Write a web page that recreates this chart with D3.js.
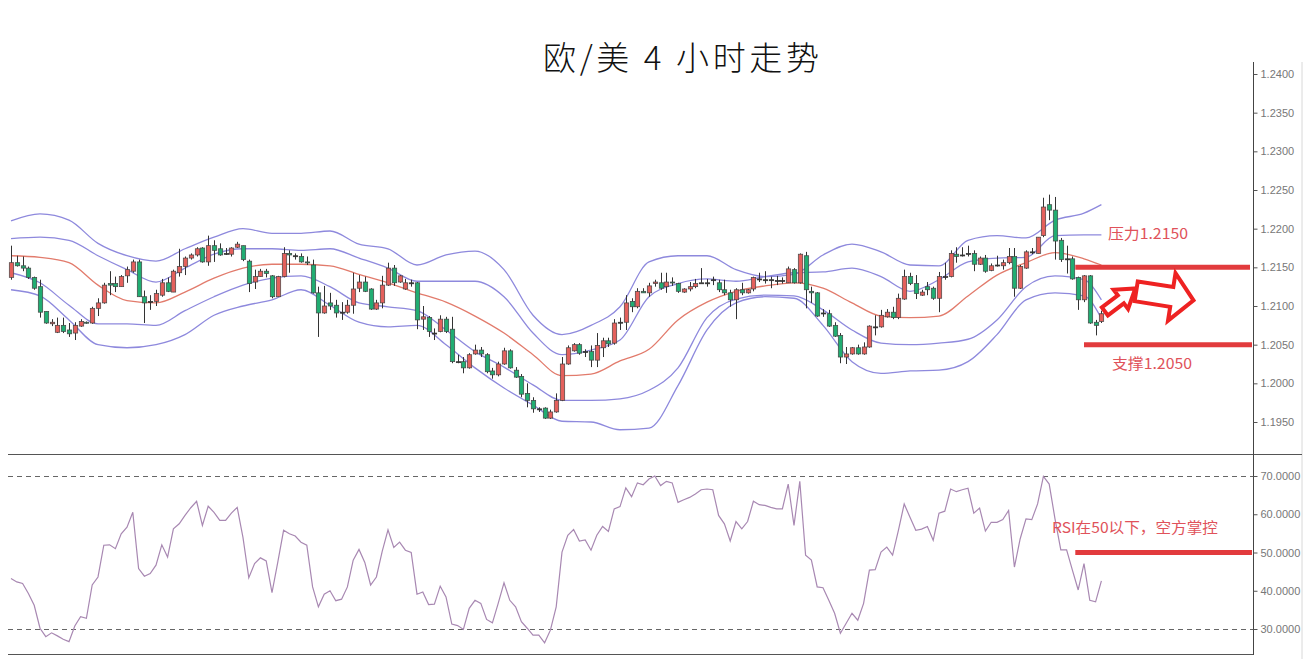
<!DOCTYPE html>
<html><head><meta charset="utf-8">
<script src="https://cdn.jsdelivr.net/npm/d3@7"></script>
<style>body{margin:0;background:#fff}svg{display:block}</style>
</head><body>
<svg id="c" width="1315" height="659"></svg>
<script>
const title = "欧/美 4 小时走势";
const openP = [1.2137,1.2156,1.2152,1.2149,1.2137,1.2125,1.2093,1.2077,1.2066,1.2075,
1.2069,1.2065,1.2074,1.2079,1.2078,1.2097,1.2104,1.2129,1.2129,1.2125,
1.2139,1.2145,1.2157,1.2112,1.2106,1.2106,1.2114,1.2130,1.2118,1.2143,
1.2151,1.2162,1.2166,1.2175,1.2157,1.2178,1.2174,1.2168,1.2167,1.2176,
1.2178,1.2158,1.2131,1.2138,1.2145,1.2139,1.2112,1.2138,1.2168,1.2165,
1.2164,1.2157,1.2153,1.2117,1.2091,1.2104,1.2101,1.2092,1.2092,1.2101,
1.2123,1.2131,1.2122,1.2096,1.2104,1.2127,1.2149,1.2131,1.2122,1.2130,
1.2130,1.2083,1.2085,1.2065,1.2067,1.2083,1.2070,1.2028,1.2028,1.2020,
1.2038,1.2043,1.2037,1.2016,1.2011,1.2025,1.2042,1.2017,1.2009,1.1987,
1.1978,1.1967,1.1968,1.1955,1.1963,1.1978,1.2025,1.2042,1.2050,1.2041,
1.2041,1.2030,1.2046,1.2055,1.2052,1.2079,1.2079,1.2106,1.2099,1.2119,
1.2117,1.2129,1.2130,1.2125,1.2131,1.2129,1.2118,1.2122,1.2125,1.2130,
1.2130,1.2134,1.2130,1.2121,1.2117,1.2108,1.2121,1.2117,1.2122,1.2135,
1.2134,1.2134,1.2133,1.2133,1.2130,1.2147,1.2130,1.2165,1.2119,1.2117,
1.2091,1.2090,1.2075,1.2062,1.2034,1.2038,1.2046,1.2038,1.2047,1.2073,
1.2073,1.2086,1.2092,1.2085,1.2109,1.2138,1.2129,1.2114,1.2125,1.2123,
1.2110,1.2138,1.2138,1.2167,1.2166,1.2168,1.2168,1.2154,1.2162,1.2146,
1.2153,1.2152,1.2156,1.2164,1.2123,1.2149,1.2170,1.2168,1.2191,1.2231,
1.2224,1.2185,1.2161,1.2161,1.2137,1.2108,1.2139,1.2079,1.2080];
const highP = [1.2178,1.2165,1.2164,1.2151,1.2138,1.2134,1.2093,1.2083,1.2085,1.2085,
1.2078,1.2079,1.2083,1.2080,1.2099,1.2110,1.2130,1.2145,1.2138,1.2140,
1.2151,1.2160,1.2160,1.2120,1.2114,1.2121,1.2135,1.2137,1.2147,1.2174,
1.2164,1.2168,1.2176,1.2176,1.2191,1.2185,1.2181,1.2175,1.2176,1.2183,
1.2178,1.2160,1.2147,1.2148,1.2148,1.2140,1.2139,1.2176,1.2172,1.2168,
1.2168,1.2164,1.2160,1.2125,1.2126,1.2117,1.2108,1.2105,1.2108,1.2143,
1.2140,1.2138,1.2123,1.2108,1.2139,1.2156,1.2153,1.2140,1.2135,1.2134,
1.2131,1.2100,1.2087,1.2071,1.2088,1.2086,1.2086,1.2037,1.2034,1.2039,
1.2050,1.2047,1.2039,1.2020,1.2028,1.2046,1.2044,1.2021,1.2012,1.2000,
1.1982,1.1969,1.1969,1.1966,1.1987,1.2034,1.2049,1.2052,1.2052,1.2044,
1.2049,1.2065,1.2059,1.2059,1.2083,1.2085,1.2114,1.2110,1.2123,1.2123,
1.2130,1.2134,1.2143,1.2143,1.2137,1.2130,1.2123,1.2131,1.2135,1.2149,
1.2135,1.2138,1.2134,1.2134,1.2121,1.2123,1.2130,1.2122,1.2138,1.2143,
1.2145,1.2138,1.2139,1.2137,1.2151,1.2149,1.2168,1.2170,1.2125,1.2118,
1.2096,1.2095,1.2079,1.2065,1.2047,1.2047,1.2050,1.2053,1.2075,1.2088,
1.2095,1.2096,1.2099,1.2116,1.2147,1.2143,1.2140,1.2121,1.2131,1.2125,
1.2144,1.2156,1.2172,1.2176,1.2176,1.2178,1.2172,1.2164,1.2166,1.2155,
1.2165,1.2160,1.2175,1.2175,1.2153,1.2172,1.2175,1.2189,1.2240,1.2244,
1.2241,1.2188,1.2178,1.2164,1.2138,1.2140,1.2140,1.2082,1.2094];
const lowP = [1.2134,1.2151,1.2145,1.2135,1.2121,1.2085,1.2077,1.2074,1.2065,1.2065,
1.2060,1.2056,1.2073,1.2077,1.2077,1.2087,1.2103,1.2114,1.2118,1.2125,
1.2130,1.2143,1.2112,1.2078,1.2095,1.2100,1.2112,1.2118,1.2118,1.2138,
1.2140,1.2160,1.2164,1.2156,1.2152,1.2157,1.2165,1.2166,1.2164,1.2175,
1.2158,1.2118,1.2122,1.2138,1.2137,1.2110,1.2112,1.2137,1.2143,1.2160,
1.2156,1.2153,1.2116,1.2060,1.2090,1.2095,1.2085,1.2082,1.2090,1.2090,
1.2118,1.2118,1.2095,1.2095,1.2097,1.2126,1.2126,1.2130,1.2121,1.2125,
1.2070,1.2069,1.2060,1.2056,1.2066,1.2065,1.2026,1.2026,1.2013,1.2019,
1.2037,1.2034,1.2013,1.2006,1.2009,1.2024,1.2019,1.2007,1.1982,1.1969,
1.1962,1.1963,1.1954,1.1954,1.1962,1.1977,1.2024,1.2041,1.2037,1.2034,
1.2021,1.2021,1.2034,1.2047,1.2050,1.2069,1.2069,1.2092,1.2097,1.2117,
1.2112,1.2125,1.2121,1.2117,1.2126,1.2117,1.2117,1.2119,1.2123,1.2130,
1.2125,1.2127,1.2118,1.2114,1.2099,1.2083,1.2114,1.2116,1.2119,1.2131,
1.2129,1.2123,1.2127,1.2129,1.2130,1.2129,1.2129,1.2097,1.2104,1.2086,
1.2086,1.2073,1.2060,1.2026,1.2025,1.2037,1.2037,1.2037,1.2046,1.2062,
1.2072,1.2085,1.2083,1.2083,1.2108,1.2127,1.2109,1.2113,1.2114,1.2108,
1.2092,1.2134,1.2137,1.2156,1.2164,1.2164,1.2145,1.2153,1.2143,1.2145,
1.2151,1.2147,1.2154,1.2112,1.2122,1.2148,1.2167,1.2168,1.2189,1.2211,
1.2160,1.2157,1.2142,1.2134,1.2095,1.2105,1.2077,1.2062,1.2078];
const closeP = [1.2156,1.2152,1.2149,1.2137,1.2123,1.2092,1.2078,1.2079,1.2075,1.2067,
1.2064,1.2075,1.2080,1.2078,1.2097,1.2104,1.2127,1.2127,1.2125,1.2138,
1.2147,1.2157,1.2112,1.2104,1.2106,1.2116,1.2130,1.2119,1.2145,1.2151,
1.2162,1.2166,1.2174,1.2157,1.2178,1.2172,1.2166,1.2168,1.2175,1.2180,
1.2160,1.2129,1.2138,1.2145,1.2142,1.2112,1.2138,1.2168,1.2166,1.2165,
1.2157,1.2156,1.2117,1.2091,1.2100,1.2100,1.2091,1.2092,1.2101,1.2122,
1.2131,1.2119,1.2096,1.2104,1.2127,1.2149,1.2130,1.2139,1.2130,1.2130,
1.2082,1.2086,1.2067,1.2065,1.2083,1.2067,1.2028,1.2028,1.2020,1.2037,
1.2043,1.2038,1.2015,1.2011,1.2025,1.2042,1.2020,1.2008,1.1986,1.1978,
1.1967,1.1967,1.1955,1.1963,1.1978,1.2025,1.2046,1.2050,1.2039,1.2041,
1.2030,1.2049,1.2055,1.2051,1.2078,1.2079,1.2104,1.2099,1.2119,1.2117,
1.2126,1.2131,1.2123,1.2131,1.2130,1.2119,1.2122,1.2125,1.2129,1.2130,
1.2130,1.2134,1.2121,1.2117,1.2108,1.2121,1.2117,1.2121,1.2137,1.2135,
1.2134,1.2134,1.2133,1.2133,1.2148,1.2130,1.2167,1.2121,1.2117,1.2087,
1.2091,1.2074,1.2061,1.2034,1.2038,1.2046,1.2038,1.2047,1.2074,1.2073,
1.2088,1.2092,1.2085,1.2110,1.2138,1.2129,1.2116,1.2118,1.2121,1.2110,
1.2138,1.2138,1.2168,1.2164,1.2166,1.2168,1.2154,1.2162,1.2145,1.2152,
1.2153,1.2156,1.2164,1.2123,1.2151,1.2170,1.2170,1.2189,1.2228,1.2224,
1.2184,1.2160,1.2161,1.2135,1.2108,1.2139,1.2078,1.2075,1.2090];
const rsi = [43.2,42.3,41.9,39.3,36.2,30.2,28.0,29.0,28.2,27.3,
26.7,30.8,33.2,32.8,41.5,43.6,51.9,52.0,51.0,54.9,
56.6,60.5,45.8,43.8,44.5,46.7,52.0,48.8,56.2,57.5,
59.7,61.7,63.4,57.1,62.1,60.5,58.4,58.4,60.3,61.8,
53.9,43.4,47.1,48.6,47.8,39.5,47.5,55.8,54.9,54.3,
52.7,51.9,41.0,35.8,39.1,40.0,37.4,37.8,41.0,48.0,
50.8,47.4,41.5,43.6,50.3,55.9,51.3,52.7,50.6,50.0,
39.1,39.7,36.4,36.5,41.2,38.4,31.3,30.9,29.9,35.4,
37.5,36.7,32.5,31.6,36.7,42.1,37.5,35.8,31.9,30.2,
28.4,28.4,26.4,29.7,35.8,50.1,54.5,56.0,53.0,53.3,
50.6,54.5,56.8,55.5,61.4,62.0,66.9,64.6,68.2,67.7,
69.2,70.0,67.5,68.6,68.2,63.1,63.8,64.4,65.3,66.4,
66.6,66.4,59.7,57.5,53.0,58.1,56.2,58.1,63.4,62.5,
62.3,61.8,61.4,61.4,67.9,57.1,68.6,49.3,48.0,41.0,
40.8,37.5,34.1,28.9,31.5,34.1,32.3,36.7,45.4,45.5,
50.1,51.4,49.3,55.8,62.7,59.2,55.8,56.1,56.8,53.2,
60.3,60.8,66.6,65.9,66.4,66.8,60.3,61.6,55.6,57.9,
57.9,58.6,61.0,46.2,53.6,58.8,58.6,62.7,69.9,67.9,
58.8,50.7,50.7,45.4,40.2,47.1,37.5,37.1,42.6];
const bandIdx = [0,5,10,15,20,25,30,35,40,45,50,55,60,65,70,75,80,85,90,95,100,105,110,115,120,125,130,135,140,145,150,155,160,165,170,175,180,185,188];
const bbOuterUp = [1.2210,1.2219,1.2211,1.2181,1.2165,1.2158,1.2174,1.2189,1.2200,1.2194,1.2194,1.2197,1.2180,1.2174,1.2153,1.2166,1.2171,1.2147,1.2088,1.2063,1.2075,1.2099,1.2157,1.2165,1.2165,1.2147,1.2138,1.2141,1.2166,1.2180,1.2170,1.2153,1.2152,1.2185,1.2191,1.2188,1.2211,1.2220,1.2231];
const bbInnerUp = [1.2187,1.2189,1.2185,1.2165,1.2147,1.2131,1.2149,1.2167,1.2174,1.2174,1.2172,1.2174,1.2162,1.2149,1.2132,1.2132,1.2132,1.2112,1.2065,1.2037,1.2043,1.2056,1.2112,1.2129,1.2135,1.2132,1.2138,1.2143,1.2144,1.2149,1.2138,1.2119,1.2134,1.2157,1.2162,1.2163,1.2191,1.2192,1.2192];
const bbMid = [1.2165,1.2163,1.2156,1.2127,1.2107,1.2104,1.2118,1.2136,1.2149,1.2154,1.2154,1.2152,1.2141,1.2130,1.2117,1.2105,1.2087,1.2065,1.2037,1.2010,1.2012,1.2029,1.2044,1.2082,1.2105,1.2119,1.2126,1.2130,1.2123,1.2104,1.2087,1.2085,1.2087,1.2113,1.2140,1.2156,1.2169,1.2161,1.2153];
const bbInnerLow = [1.2143,1.2130,1.2101,1.2077,1.2077,1.2075,1.2094,1.2112,1.2127,1.2136,1.2139,1.2125,1.2104,1.2099,1.2094,1.2069,1.2041,1.2021,1.1998,1.1978,1.1978,1.1980,1.1991,1.2020,1.2085,1.2109,1.2114,1.2113,1.2095,1.2069,1.2052,1.2050,1.2052,1.2057,1.2082,1.2125,1.2139,1.2134,1.2108];
const bbOuterLow = [1.2121,1.2113,1.2082,1.2050,1.2046,1.2050,1.2063,1.2088,1.2100,1.2108,1.2121,1.2101,1.2079,1.2073,1.2075,1.2050,1.2020,1.1994,1.1972,1.1951,1.1950,1.1940,1.1942,1.1997,1.2069,1.2104,1.2112,1.2110,1.2075,1.2028,1.2013,1.2016,1.2017,1.2028,1.2063,1.2108,1.2117,1.2113,1.2084];
const priceTicks = [1.2400,1.2350,1.2300,1.2250,1.2200,1.2150,1.2100,1.2050,1.2000,1.1950];
const rsiTicks = [70,60,50,40,30];
const rsiGuides = [70,30];
const resistance = 1.2150, support = 1.2050, rsiLevel = 50;
const resistanceLabel = "压力1.2150", supportLabel = "支撑1.2050", rsiLabel = "RSI在50以下，空方掌控";

const svg = d3.select("#c");
const N = openP.length;
const x = d3.scaleLinear().domain([0, 188]).range([11, 1101.4]);
const yP = d3.scaleLinear().domain([1.1950, 1.2400]).range([422, 74]);
const yR = d3.scaleLinear().domain([30, 70]).range([629, 476]);
const axisX = 1253, leftX = 8, grayX = 1302;
const RED = "#e23b3d", TXT = "#e0525a";

// title
svg.append("text").attr("x", 681).attr("y", 70).attr("text-anchor", "middle")
  .attr("font-family", "'Noto Sans CJK SC', sans-serif").attr("font-size", 33).attr("font-weight", 300)
  .attr("fill", "#111").attr("textLength", 276).attr("lengthAdjust", "spacing").text(title);

// frame lines
svg.append("line").attr("x1", grayX).attr("x2", grayX).attr("y1", 62).attr("y2", 659).attr("stroke", "#d8d8d8");
svg.append("line").attr("x1", leftX).attr("x2", grayX).attr("y1", 454.5).attr("y2", 454.5).attr("stroke", "#555");
svg.append("line").attr("x1", leftX).attr("x2", axisX).attr("y1", 654.5).attr("y2", 654.5).attr("stroke", "#555");

// RSI guides
svg.selectAll(".guide").data(rsiGuides).join("line")
  .attr("x1", leftX).attr("x2", axisX).attr("y1", d => Math.round(yR(d)) + 0.5).attr("y2", d => Math.round(yR(d)) + 0.5)
  .attr("stroke", "#666").attr("stroke-dasharray", "5,4");

// bands
const bandLine = arr => d3.line().x((d, k) => x(bandIdx[k])).y(d => yP(d)).curve(d3.curveMonotoneX)(arr);
[bbOuterUp, bbInnerUp, bbInnerLow, bbOuterLow].forEach(a => {
  svg.append("path").attr("d", bandLine(a)).attr("fill", "none").attr("stroke", "#8e89dd").attr("stroke-width", 1.3);
});
svg.append("path").attr("d", bandLine(bbMid)).attr("fill", "none").attr("stroke", "#e27b6c").attr("stroke-width", 1.3);

// candles
const idx = d3.range(N);
const g = svg.append("g");
g.selectAll(".wick").data(idx).join("line")
  .attr("x1", i => Math.round(x(i)) + 0.5).attr("x2", i => Math.round(x(i)) + 0.5)
  .attr("y1", i => yP(highP[i])).attr("y2", i => yP(lowP[i]))
  .attr("stroke", "#333").attr("stroke-width", 1);
const bw = 4.4;
g.selectAll(".body").data(idx).join("rect")
  .attr("x", i => Math.round(x(i)) + 0.5 - bw / 2)
  .attr("y", i => yP(Math.max(openP[i], closeP[i])))
  .attr("width", bw)
  .attr("height", i => Math.max(1, Math.abs(yP(openP[i]) - yP(closeP[i]))))
  .attr("fill", i => closeP[i] > openP[i] ? "#e4605c" : (closeP[i] < openP[i] ? "#21ad72" : "#333"))
  .attr("stroke", i => closeP[i] === openP[i] ? "#333" : "#444").attr("stroke-width", 0.7);

// RSI line
svg.append("path").datum(rsi)
  .attr("d", d3.line().x((d, i) => x(i)).y(d => yR(d)))
  .attr("fill", "none").attr("stroke", "#a888b2").attr("stroke-width", 1.2);

// axes
svg.append("line").attr("x1", axisX + 0.5).attr("x2", axisX + 0.5).attr("y1", 62).attr("y2", 655).attr("stroke", "#444");
const ax1 = svg.append("g").attr("transform", `translate(${axisX + 0.5},0)`)
  .call(d3.axisRight(yP).tickValues(priceTicks).tickSize(4).tickPadding(3).tickFormat(d3.format(".4f")));
const ax2 = svg.append("g").attr("transform", `translate(${axisX + 0.5},0)`)
  .call(d3.axisRight(yR).tickValues(rsiTicks).tickSize(4).tickPadding(3).tickFormat(d => d.toFixed(4)));
[ax1, ax2].forEach(a => {
  a.select(".domain").remove();
  a.selectAll("line").attr("stroke", "#555");
  a.selectAll("text").attr("fill", "#777").attr("font-size", 11).attr("font-family", "'Liberation Sans', Arial, sans-serif");
});

// annotation lines
svg.append("line").attr("x1", x(183.5)).attr("x2", 1250).attr("y1", yP(resistance)).attr("y2", yP(resistance)).attr("stroke", RED).attr("stroke-width", 5);
svg.append("line").attr("x1", x(185.0)).attr("x2", 1252).attr("y1", yP(support)).attr("y2", yP(support)).attr("stroke", RED).attr("stroke-width", 5);
svg.append("line").attr("x1", x(183.5)).attr("x2", 1252).attr("y1", yR(rsiLevel)).attr("y2", yR(rsiLevel)).attr("stroke", RED).attr("stroke-width", 5);

const lbl = (t, xx, yy, w, fs) => svg.append("text").attr("x", xx).attr("y", yy)
  .attr("font-family", "'Noto Sans CJK SC', sans-serif").attr("font-size", fs).attr("fill", TXT)
  .attr("textLength", w).attr("lengthAdjust", "spacingAndGlyphs").text(t);
lbl(resistanceLabel, 1108, yP(resistance) - 28, 80, 15);
lbl(supportLabel, 1112, yP(support) + 24, 80, 15);
lbl(rsiLabel, 1052, yR(rsiLevel) - 20, 166, 15);

// hollow arrows
function arrow(cx, cy, ang, L, L1, h, s) {
  const pts = [[0, -s], [L1, -s], [L1, -h], [L, 0], [L1, h], [L1, s], [0, s]];
  svg.append("polygon").attr("points", pts.map(p => p.join(",")).join(" "))
    .attr("transform", `translate(${cx},${cy}) rotate(${ang})`)
    .attr("fill", "#fff").attr("stroke", "#ee2222").attr("stroke-width", 4).attr("stroke-linejoin", "miter");
}
arrow(x(188.6), yP(1.2093), -37, 38, 20, 12, 5);
arrow(x(194.0), yP(1.2119), 9, 58, 36, 24, 10);
</script>
</body></html>
